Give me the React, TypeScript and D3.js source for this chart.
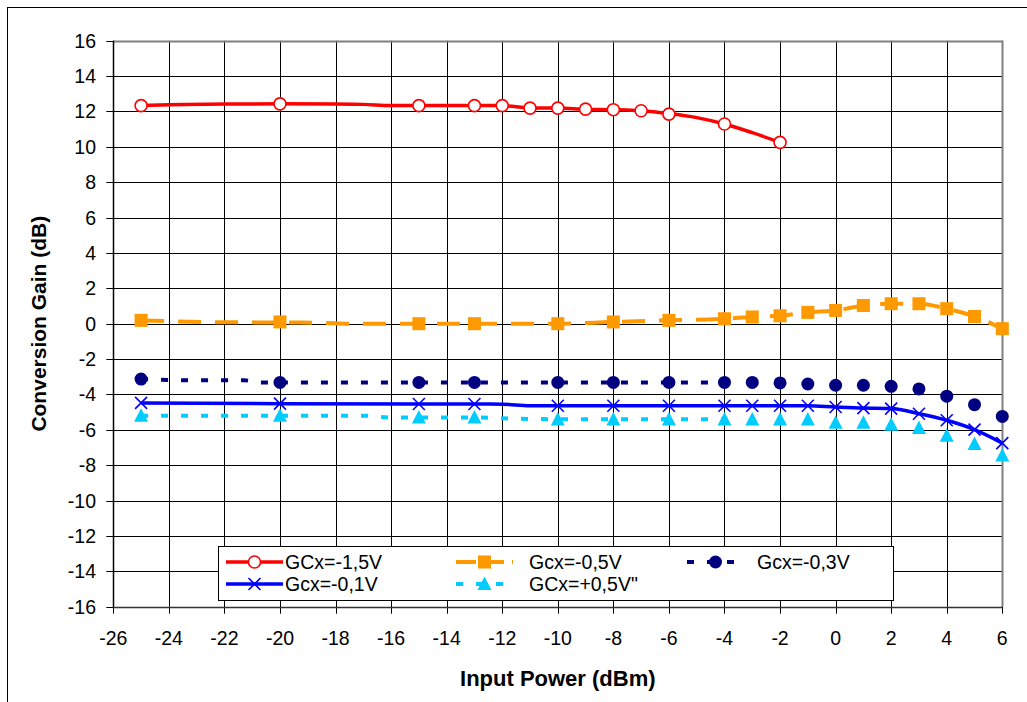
import React from "react";
import * as d3 from "d3";

// ---- Data ----
const xTicks = [-26, -24, -22, -20, -18, -16, -14, -12, -10, -8, -6, -4, -2, 0, 2, 4, 6];
const yTicks = [-16, -14, -12, -10, -8, -6, -4, -2, 0, 2, 4, 6, 8, 10, 12, 14, 16];

// marker positions (dBm)
const redMarkX = [-25, -20, -15, -13, -12, -11, -10, -9, -8, -7, -6, -4, -2];
const redMarkY = [12.33, 12.43, 12.33, 12.33, 12.33, 12.19, 12.19, 12.13, 12.1, 12.04, 11.85, 11.29, 10.25];
const redLineX = [-25, -24, -22, -20, -18, -17, -16, -15, -13, -12, -11, -10, -9, -8, -7, -6, -5, -4, -3, -2];
const redLineY = [12.33, 12.38, 12.42, 12.43, 12.42, 12.4, 12.33, 12.33, 12.33, 12.33, 12.2, 12.19, 12.13, 12.1, 12.04, 11.88, 11.65, 11.29, 10.8, 10.25];

const markX = [-25, -20, -15, -13, -10, -8, -6, -4, -3, -2, -1, 0, 1, 2, 3, 4, 5, 6];
const orangeMarkY = [0.19, 0.1, 0, 0, 0, 0.1, 0.19, 0.28, 0.38, 0.45, 0.64, 0.75, 1.03, 1.13, 1.13, 0.85, 0.41, -0.28];
const orangeLineX = [-25, -22, -20, -18.5, -17.5, -15, -13, -10, -8, -6, -4, -3, -2, -1, 0, 1, 2, 3, 4, 5, 6];
const orangeLineY = [0.19, 0.08, 0.07, 0.05, 0, 0, 0, 0, 0.1, 0.19, 0.28, 0.38, 0.45, 0.64, 0.75, 1.03, 1.13, 1.13, 0.85, 0.41, -0.28];

const navyMarkY = [-3.13, -3.32, -3.32, -3.32, -3.32, -3.32, -3.32, -3.32, -3.32, -3.35, -3.41, -3.48, -3.48, -3.54, -3.69, -4.1, -4.58, -5.24];
const navyLineX = [-25, -23, -21.3, -20.7, -20, -15, -13, -10, -8, -6, -4];
const navyLineY = [-3.13, -3.2, -3.2, -3.32, -3.32, -3.32, -3.32, -3.32, -3.32, -3.32, -3.32];

const blueMarkY = [-4.48, -4.52, -4.54, -4.54, -4.64, -4.64, -4.64, -4.64, -4.64, -4.64, -4.64, -4.71, -4.77, -4.8, -5.09, -5.46, -5.99, -6.75];
const blueLineX = [-25, -20, -15, -13, -12, -11, -10, -8, -6, -4, -3, -2, -1, 0, 1, 2, 3, 4, 5, 6];
const blueLineY = [-4.48, -4.52, -4.54, -4.54, -4.55, -4.64, -4.64, -4.64, -4.64, -4.64, -4.64, -4.64, -4.64, -4.71, -4.77, -4.8, -5.09, -5.46, -5.99, -6.75];

const cyanMarkY = [-5.2, -5.2, -5.3, -5.3, -5.42, -5.42, -5.42, -5.42, -5.42, -5.42, -5.42, -5.6, -5.6, -5.71, -5.9, -6.33, -6.8, -7.45];
const cyanLineX = [-25, -20, -17, -16, -15, -13, -12, -10, -8, -6, -4];
const cyanLineY = [-5.2, -5.2, -5.2, -5.3, -5.3, -5.3, -5.35, -5.4, -5.4, -5.4, -5.4];

const legendLabels = ["GCx=-1,5V", "Gcx=-0,5V", "Gcx=-0,3V", "Gcx=-0,1V", "GCx=+0,5V\""];

// ---- Layout ----
const W = 1027;
const H = 702;
const PL = 113.3, PR = 1002.3, PT = 40.7, PB = 606.7;
const FONT = "'Liberation Sans', Arial, sans-serif";

const RED = "#FF0000", ORANGE = "#FF9900", NAVY = "#000080", BLUE = "#0000FF", CYAN = "#00CCFF";

function Marker({ type, x, y }: { type: string; x: number; y: number }) {
  if (type === "circleOpen")
    return <circle cx={x} cy={y} r={6} fill="white" stroke={RED} strokeWidth={1.6} />;
  if (type === "square")
    return <rect x={x - 6.5} y={y - 6.5} width={13} height={13} fill={ORANGE} />;
  if (type === "circle")
    return <circle cx={x} cy={y} r={6.5} fill={NAVY} />;
  if (type === "x")
    return (
      <path d={`M${x - 6},${y - 6}L${x + 6},${y + 6}M${x - 6},${y + 6}L${x + 6},${y - 6}`} stroke={BLUE} strokeWidth={1.6} />
    );
  if (type === "tri")
    return <path d={`M${x},${y - 7.5}L${x + 7},${y + 6}L${x - 7},${y + 6}Z`} fill={CYAN} />;
  return null;
}

export default function App() {
  const x = d3.scaleLinear().domain([-26, 6]).range([PL, PR]);
  const y = d3.scaleLinear().domain([-16, 16]).range([PB, PT]);
  const line = d3
    .line<[number, number]>()
    .x((d) => x(d[0]))
    .y((d) => y(d[1]))
    .curve(d3.curveMonotoneX);
  const zip = (a: number[], b: number[]) => a.map((v, i) => [v, b[i]] as [number, number]);

  const series = [
    { lx: redLineX, ly: redLineY, mx: redMarkX, my: redMarkY, color: RED, w: 3.5, dash: undefined, m: "circleOpen" },
    { lx: orangeLineX, ly: orangeLineY, mx: markX, my: orangeMarkY, color: ORANGE, w: 4, dash: "23,14", m: "square" },
    { lx: navyLineX, ly: navyLineY, mx: markX, my: navyMarkY, color: NAVY, w: 4, dash: "7,13", m: "circle" },
    { lx: blueLineX, ly: blueLineY, mx: markX, my: blueMarkY, color: BLUE, w: 3.5, dash: undefined, m: "x" },
    { lx: cyanLineX, ly: cyanLineY, mx: markX, my: cyanMarkY, color: CYAN, w: 4, dash: "7,13", m: "tri" },
  ];

  // legend layout
  const LX = 218, LY = 546, LW = 675, LH = 54;
  const cols = [226, 456, 687];
  const textX = [285, 529, 757];
  const rows = [562, 584];
  const legendDash = [undefined, "20,8", "7,13", undefined, "7,13"];

  return (
    <svg width={W} height={H} style={{ position: "absolute", left: 0, top: 0, background: "white" }} fontFamily={FONT}>
      {/* outer frame */}
      <line x1={7} x2={W} y1={7.5} y2={7.5} stroke="#000" strokeWidth={1} />
      <line x1={7.5} x2={7.5} y1={7} y2={H} stroke="#000" strokeWidth={1} />

      {/* gridlines */}
      {xTicks.map((t) => (
        <line key={"gx" + t} x1={Math.round(x(t)) + 0.5} x2={Math.round(x(t)) + 0.5} y1={PT} y2={PB + 7} stroke="#000" strokeWidth={1} />
      ))}
      {yTicks.map((t) => (
        <line key={"gy" + t} x1={PL - 7} x2={PR} y1={Math.round(y(t)) + 0.5} y2={Math.round(y(t)) + 0.5} stroke="#000" strokeWidth={1} />
      ))}
      {/* plot border */}
      <line x1={PL} x2={PR} y1={Math.round(PT) + 0.5} y2={Math.round(PT) + 0.5} stroke="#808080" strokeWidth={2} />
      <line x1={Math.round(PR) + 0.5} x2={Math.round(PR) + 0.5} y1={PT} y2={PB} stroke="#808080" strokeWidth={2} />
      <line x1={Math.round(PL) + 0.5} x2={Math.round(PL) + 0.5} y1={PT} y2={PB} stroke="#000" strokeWidth={1.5} />
      <line x1={PL} x2={PR} y1={Math.round(PB) + 0.5} y2={Math.round(PB) + 0.5} stroke="#333" strokeWidth={1.5} />

      {/* tick labels */}
      {yTicks.map((t) => (
        <text key={"ty" + t} x={96} y={y(t)} dy="0.36em" textAnchor="end" fontSize={19.5}>
          {t}
        </text>
      ))}
      {xTicks.map((t) => (
        <text key={"tx" + t} x={x(t)} y={645} textAnchor="middle" fontSize={19.5}>
          {t}
        </text>
      ))}

      {/* axis titles */}
      <text x={(PL + PR) / 2} y={686} textAnchor="middle" fontSize={22} fontWeight="bold">
        Input Power (dBm)
      </text>
      <text transform={`translate(46,${(PT + PB) / 2}) rotate(-90)`} textAnchor="middle" fontSize={21} fontWeight="bold">
        Conversion Gain (dB)
      </text>

      {/* series lines */}
      {series.map((s, i) => (
        <path key={"l" + i} d={line(zip(s.lx, s.ly)) || ""} fill="none" stroke={s.color} strokeWidth={s.w} strokeDasharray={s.dash} />
      ))}
      {/* markers */}
      {series.map((s, i) =>
        s.mx.map((v, j) => <Marker key={"m" + i + "_" + j} type={s.m} x={x(v)} y={y(s.my[j])} />)
      )}

      {/* legend */}
      <rect x={LX + 0.5} y={LY + 0.5} width={LW} height={LH} fill="white" stroke="#000" strokeWidth={1} />
      {series.map((s, i) => {
        const cx = cols[i % 3];
        const cy = rows[Math.floor(i / 3)];
        return (
          <g key={"lg" + i}>
            <line x1={cx} x2={cx + 57} y1={cy} y2={cy} stroke={s.color} strokeWidth={s.w} strokeDasharray={legendDash[i]} />
            <Marker type={s.m} x={cx + 28.5} y={cy} />
            <text x={textX[i % 3]} y={cy} dy="0.36em" fontSize={19.5}>
              {legendLabels[i]}
            </text>
          </g>
        );
      })}
    </svg>
  );
}
